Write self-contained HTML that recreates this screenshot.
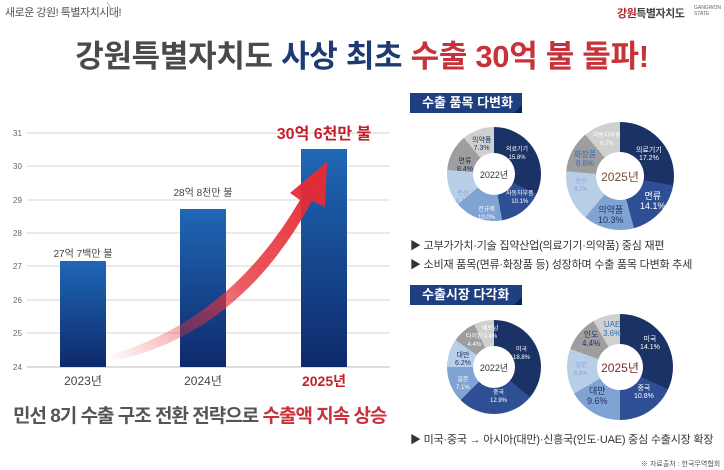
<!DOCTYPE html>
<html><head><meta charset="utf-8"><style>
body{margin:0;width:724px;height:470px;background:#fff;position:relative;overflow:hidden;font-family:"Liberation Sans","Noto Sans CJK KR",sans-serif}
.a{position:absolute;white-space:nowrap}
.d{position:absolute;border-radius:50%}
.d .h{position:absolute;border-radius:50%;background:#fff;display:flex;align-items:center;justify-content:center;color:#333}
.tab{position:absolute;background:#1e3f80;color:#fff;font-weight:bold;font-size:13px;height:20px;line-height:20px;padding-left:12px;box-sizing:border-box}
.tab:after{content:"";position:absolute;right:0;bottom:0;border-style:solid;border-width:0 0 8px 8px;border-color:transparent transparent #0f2350 transparent}
.b{font-size:11px;color:#333;letter-spacing:-0.2px}
.l{position:absolute;font-size:6px;color:#fff;text-align:center;line-height:8px}
</style></head><body>
<div class="a" style="left:5px;top:4px;font-size:11px;color:#555;letter-spacing:-0.5px">새로운 강원! 특별자치시대!</div>
<svg class="a" style="left:105px;top:0" width="14" height="20"><line x1="2" y1="2" x2="12" y2="18" stroke="#bbb"/></svg>
<div class="a" style="left:617px;top:5px;font-size:11px;font-weight:bold;color:#b5202e;letter-spacing:-0.5px">강원<span style="color:#444">특별자치도</span></div>
<div class="a" style="left:694px;top:5px;font-size:5px;line-height:6px;color:#666">GANGWON<br>STATE</div>
<div class="a" style="left:0;width:724px;top:31px;text-align:center;font-size:31px;font-weight:bold;color:#4a4a4a;letter-spacing:-0.3px">강원특별자치도 <span style="color:#1d3a72">사상 최초</span> <span style="color:#c8323a">수출 30억 불 돌파!</span></div>

<svg class="a" style="left:0;top:100px" width="400" height="300">
<defs><linearGradient id="bg" x1="0" y1="0" x2="0" y2="1"><stop offset="0" stop-color="#1f67b5"/><stop offset="1" stop-color="#0e2a6b"/></linearGradient>
<linearGradient id="rg" x1="0" y1="1" x2="1" y2="0"><stop offset="0" stop-color="#e8303a" stop-opacity="0"/><stop offset="0.5" stop-color="#e8303a" stop-opacity="0.8"/><stop offset="1" stop-color="#e32b35"/></linearGradient></defs>
<g stroke="#d6d6d6" stroke-width="1">
<line x1="27" y1="33" x2="390" y2="33"/><line x1="27" y1="66" x2="390" y2="66"/><line x1="27" y1="100" x2="390" y2="100"/><line x1="27" y1="133" x2="390" y2="133"/><line x1="27" y1="166" x2="390" y2="166"/><line x1="27" y1="200" x2="390" y2="200"/><line x1="27" y1="233" x2="390" y2="233"/><line x1="27" y1="267" x2="390" y2="267" stroke="#bbb"/></g>
<g font-size="8" fill="#666"><text x="13" y="36">31</text><text x="13" y="69">30</text><text x="13" y="103">29</text><text x="13" y="136">28</text><text x="13" y="169">27</text><text x="13" y="203">26</text><text x="13" y="236">25</text><text x="13" y="270">24</text></g>
<rect x="60" y="161" width="46" height="106" fill="url(#bg)"/>
<rect x="180" y="109" width="46" height="158" fill="url(#bg)"/>
<rect x="301" y="49" width="46" height="218" fill="url(#bg)"/>
<text x="83" y="157" font-size="10" fill="#444" text-anchor="middle">27억 7백만 불</text>
<text x="203" y="96" font-size="10" fill="#444" text-anchor="middle">28억 8천만 불</text>
<text x="324" y="39" font-size="16" font-weight="bold" fill="#c41f2c" text-anchor="middle">30억 6천만 불</text>
<path d="M110 255 Q230 220 300 100 L290 93 L327 62 L325 107 L312 101 Q240 235 110 262 Z" fill="url(#rg)"/>
<text x="83" y="285" font-size="12" fill="#444" text-anchor="middle">2023년</text>
<text x="203" y="285" font-size="12" fill="#444" text-anchor="middle">2024년</text>
<text x="324" y="286" font-size="14" font-weight="bold" fill="#c41f2c" text-anchor="middle">2025년</text>
</svg>
<div class="a" style="left:13px;top:401px;font-size:19px;font-weight:bold;color:#555;letter-spacing:-1px">민선 8기 수출 구조 전환 전략으로 <span style="color:#c8323a">수출액 지속 상승</span></div>

<div class="tab" style="left:410px;top:93px;width:112px">수출 품목 다변화</div>
<div class="tab" style="left:410px;top:285px;width:112px">수출시장 다각화</div>

<div class="d" style="left:447px;top:127px;width:94px;height:94px;background:conic-gradient(#1b3266 0 115deg,#2f4f95 115deg 170deg,#7fa3d3 170deg 230deg,#b9cfe8 230deg 275deg,#9e9e9e 275deg 320deg,#d0d0d0 320deg)"><div class="h" style="left:26px;top:26px;width:42px;height:42px;font-size:9px">2022년</div></div>
<div class="d" style="left:566px;top:122px;width:108px;height:108px;background:conic-gradient(#1b3266 0 100deg,#2f4f95 100deg 165deg,#7fa3d3 165deg 220deg,#b9cfe8 220deg 275deg,#9e9e9e 275deg 320deg,#d0d0d0 320deg)"><div class="h" style="left:30px;top:30px;width:48px;height:48px;font-size:12px;color:#7a4a30">2025년</div></div>
<div class="d" style="left:447px;top:320px;width:94px;height:94px;background:conic-gradient(#1b3266 0 130deg,#2f4f95 130deg 225deg,#7fa3d3 225deg 270deg,#b9cfe8 270deg 305deg,#9e9e9e 305deg 335deg,#d0d0d0 335deg)"><div class="h" style="left:26px;top:26px;width:42px;height:42px;font-size:9px">2022년</div></div>
<div class="d" style="left:567px;top:314px;width:106px;height:106px;background:conic-gradient(#1b3266 0 115deg,#2f4f95 115deg 180deg,#7fa3d3 180deg 240deg,#b9cfe8 240deg 290deg,#9e9e9e 290deg 330deg,#d0d0d0 330deg)"><div class="h" style="left:30px;top:30px;width:46px;height:46px;font-size:12px;color:#7a2a30">2025년</div></div>

<div class="l" style="left:506px;top:146px">의료기기<br>15.8%</div>
<div class="l" style="left:506px;top:190px">자동차부품<br>10.1%</div>
<div class="l" style="left:478px;top:206px">전규제<br>10.0%</div>
<div class="l" style="left:456px;top:190px;color:#7fa3d3">전선<br>8.7%</div>
<div class="l" style="left:457px;top:158px;font-size:7px;color:#1b3266">면류<br>8.4%</div>
<div class="l" style="left:472px;top:137px;font-size:7px;color:#1b3266">의약품<br>7.3%</div>
<div class="l" style="left:636px;top:147px;font-size:7px">의료기기<br>17.2%</div>
<div class="l" style="left:640px;top:191px;font-size:9px;line-height:10px">면류<br>14.1%</div>
<div class="l" style="left:598px;top:205px;font-size:9px;line-height:10px;color:#1b3266">의약품<br>10.3%</div>
<div class="l" style="left:574px;top:178px;color:#7fa3d3">전선<br>8.7%</div>
<div class="l" style="left:574px;top:150px;font-size:8px;line-height:9px;color:#2f6fc0">화장품<br>8.8%</div>
<div class="l" style="left:593px;top:132px">자동차부품<br>6.7%</div>

<div class="l" style="left:513px;top:346px">미국<br>18.8%</div>
<div class="l" style="left:490px;top:389px">중국<br>12.9%</div>
<div class="l" style="left:456px;top:376px">일본<br>7.1%</div>
<div class="l" style="left:455px;top:352px;font-size:7px;color:#1b3266">대만<br>6.2%</div>
<div class="l" style="left:466px;top:333px">타이완<br>4.4%</div>
<div class="l" style="left:482px;top:325px">베트남<br>3.4%</div>
<div class="l" style="left:640px;top:336px;font-size:7px">미국<br>14.1%</div>
<div class="l" style="left:634px;top:385px;font-size:7px">중국<br>10.8%</div>
<div class="l" style="left:587px;top:386px;font-size:9px;line-height:10px;color:#1b3266">대만<br>9.6%</div>
<div class="l" style="left:574px;top:362px;color:#7fa3d3">일본<br>6.8%</div>
<div class="l" style="left:582px;top:330px;font-size:8px;line-height:9px;color:#1b3266">인도<br>4.4%</div>
<div class="l" style="left:603px;top:320px;font-size:8px;line-height:9px;color:#2f6fc0">UAE<br>3.6%</div>

<div class="a b" style="left:410px;top:237px">▶ 고부가가치·기술 집약산업(의료기기·의약품) 중심 재편</div>
<div class="a b" style="left:410px;top:256px">▶ 소비재 품목(면류·화장품 등) 성장하며 수출 품목 다변화 추세</div>
<div class="a b" style="left:410px;top:431px">▶ 미국·중국 → 아시아(대만)·신흥국(인도·UAE) 중심 수출시장 확장</div>
<div class="a" style="left:641px;top:459px;font-size:7px;color:#555">※ 자료출처 : 한국무역협회</div>
</body></html>
